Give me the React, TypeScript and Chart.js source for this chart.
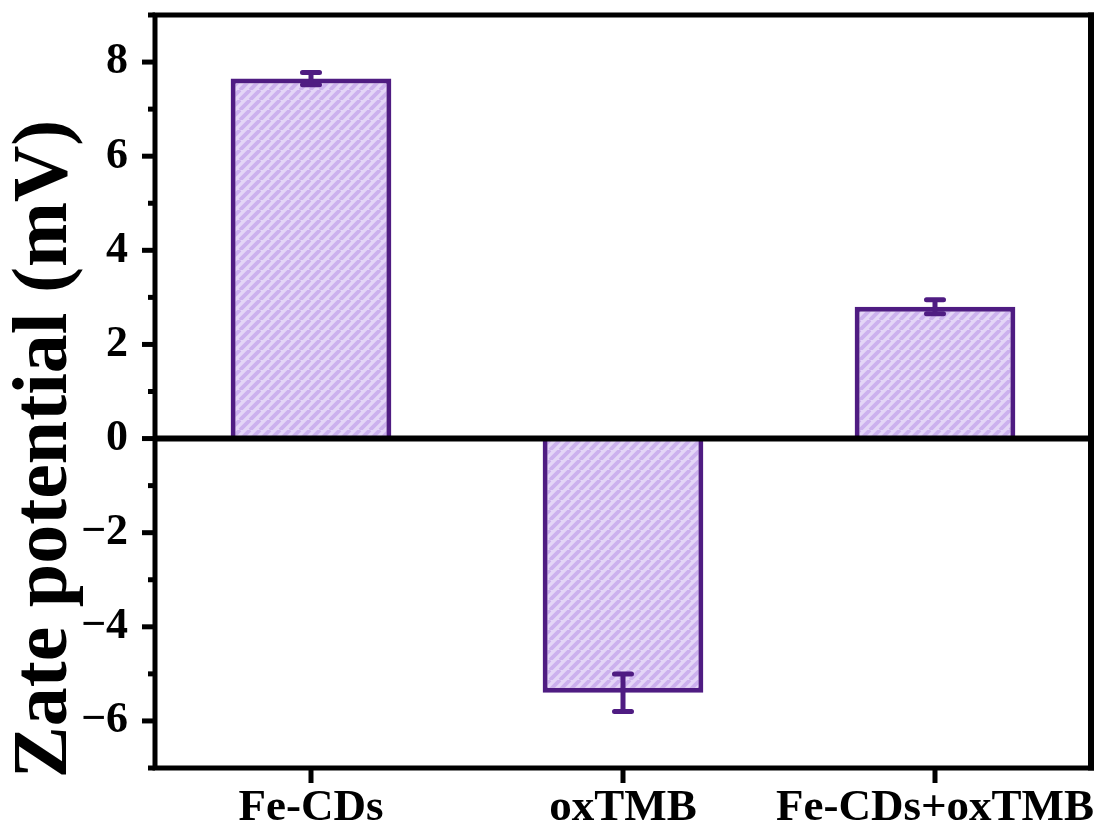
import React, { useEffect, useRef } from "react";
import { Chart, registerables } from "chart.js";

Chart.register(...registerables);

const categories = ["Fe-CDs", "oxTMB", "Fe-CDs+oxTMB"];
const zetaValues = [7.65, -5.4, 2.8];
const zetaErrors = [0.13, 0.4, 0.15];
const yMin = -7;
const yMax = 9;
const yTitle = "Zate potential (mV)";

const FONT = "'Liberation Serif', 'Times New Roman', serif";
const PURPLE = "#4f1c82";

function makeHatch(): CanvasPattern | string {
  const c = document.createElement("canvas");
  const s = 10;
  c.width = s;
  c.height = s;
  const g = c.getContext("2d");
  if (!g) return "#d9c5f1";
  g.fillStyle = "#e4d6f7";
  g.fillRect(0, 0, s, s);
  g.strokeStyle = "#ccb1ee";
  g.lineWidth = 3.8;
  g.beginPath();
  for (let k = -1; k <= 1; k++) {
    g.moveTo(k * s, s);
    g.lineTo(k * s + s, 0);
  }
  g.stroke();
  const p = g.createPattern(c, "repeat");
  return p || "#d9c5f1";
}

const zeroPad = (s: any) => {
  s.paddingTop = 0;
  s.paddingBottom = 0;
  s.paddingLeft = 0;
  s.paddingRight = 0;
};

const framePlugin = {
  id: "frameAndErrors",
  afterDatasetsDraw(chart: any) {
    const ctx = chart.ctx as CanvasRenderingContext2D;
    const { left, right, top, bottom } = chart.chartArea;
    const xs = chart.scales.x;
    const ys = chart.scales.y;
    ctx.save();
    // error bars
    ctx.strokeStyle = PURPLE;
    ctx.lineWidth = 5;
    ctx.lineCap = "round";
    zetaValues.forEach((v, i) => {
      const x = xs.getPixelForValue(i);
      const yT = ys.getPixelForValue(v + zetaErrors[i]);
      const yB = ys.getPixelForValue(v - zetaErrors[i]);
      ctx.beginPath();
      ctx.moveTo(x, yT);
      ctx.lineTo(x, yB);
      ctx.moveTo(x - 8.5, yT);
      ctx.lineTo(x + 8.5, yT);
      ctx.moveTo(x - 8.5, yB);
      ctx.lineTo(x + 8.5, yB);
      ctx.stroke();
    });
    ctx.lineCap = "butt";
    ctx.strokeStyle = "#000";
    // zero line
    const y0 = ys.getPixelForValue(0);
    ctx.lineWidth = 6;
    ctx.beginPath();
    ctx.moveTo(left, y0);
    ctx.lineTo(right, y0);
    ctx.stroke();
    // frame
    ctx.lineWidth = 5;
    ctx.beginPath();
    ctx.moveTo(left, top - 2.5);
    ctx.lineTo(left, bottom + 2.5);
    ctx.moveTo(left - 2.5, bottom);
    ctx.lineTo(right + 3, bottom);
    ctx.moveTo(left - 2.5, top);
    ctx.lineTo(right + 3, top);
    ctx.stroke();
    ctx.lineWidth = 6;
    ctx.beginPath();
    ctx.moveTo(right, top - 2.5);
    ctx.lineTo(right, bottom + 2.5);
    ctx.stroke();
    // y ticks
    ctx.lineWidth = 5;
    ys.ticks.forEach((t: any) => {
      const y = ys.getPixelForValue(t.value);
      const major = Math.round(t.value) % 2 === 0;
      ctx.beginPath();
      ctx.moveTo(left, y);
      ctx.lineTo(left - (major ? 13 : 7), y);
      ctx.stroke();
    });
    // x ticks
    categories.forEach((_, i) => {
      const x = xs.getPixelForValue(i);
      ctx.beginPath();
      ctx.moveTo(x, bottom);
      ctx.lineTo(x, bottom + 15);
      ctx.stroke();
    });
    // y title
    ctx.fillStyle = "#000";
    ctx.font = `bold 78px ${FONT}`;
    ctx.textAlign = "center";
    ctx.textBaseline = "middle";
    ctx.translate(46, 449);
    ctx.rotate(-Math.PI / 2);
    ctx.fillText(yTitle, 0, 0);
    ctx.restore();
  },
};

export default function App() {
  const ref = useRef<HTMLCanvasElement>(null);
  useEffect(() => {
    if (!ref.current) return;
    const hatch = makeHatch();
    const chart = new Chart(ref.current, {
      type: "bar",
      data: {
        labels: categories,
        datasets: [
          {
            data: zetaValues,
            backgroundColor: hatch as any,
            borderColor: PURPLE,
            borderWidth: 5,
            borderSkipped: "start",
            barPercentage: 0.515,
            categoryPercentage: 1,
          },
        ],
      },
      options: {
        responsive: false,
        animation: false,
        layout: { padding: { top: 15, right: 14, left: 0, bottom: 0 } },
        plugins: { legend: { display: false }, tooltip: { enabled: false } },
        scales: {
          x: {
            grid: { display: false, drawTicks: false },
            border: { display: false },
            ticks: {
              color: "#000",
              padding: 13,
              font: { family: FONT, size: 45, weight: "bold" },
              maxRotation: 0,
              autoSkip: false,
            },
            afterFit: (s: any) => {
              s.height = 70;
              zeroPad(s);
            },
          },
          y: {
            min: yMin,
            max: yMax,
            grid: { display: false, drawTicks: false },
            border: { display: false },
            ticks: {
              stepSize: 1,
              color: "#000",
              padding: 27,
              font: { family: FONT, size: 44, weight: "bold" },
              autoSkip: false,
              callback: (v: any) => {
                const n = Number(v);
                if (n % 2 !== 0) return "";
                return n < 0 ? "\u2212" + Math.abs(n) : String(n);
              },
            },
            afterFit: (s: any) => {
              s.width = 155;
              zeroPad(s);
            },
          },
        },
      },
      plugins: [framePlugin],
    });
    return () => chart.destroy();
  }, []);
  return (
    <div style={{ position: "fixed", left: 0, top: 0, width: 1105, height: 838, background: "#fff" }}>
      <canvas ref={ref} width={1105} height={838} style={{ display: "block" }} />
    </div>
  );
}
